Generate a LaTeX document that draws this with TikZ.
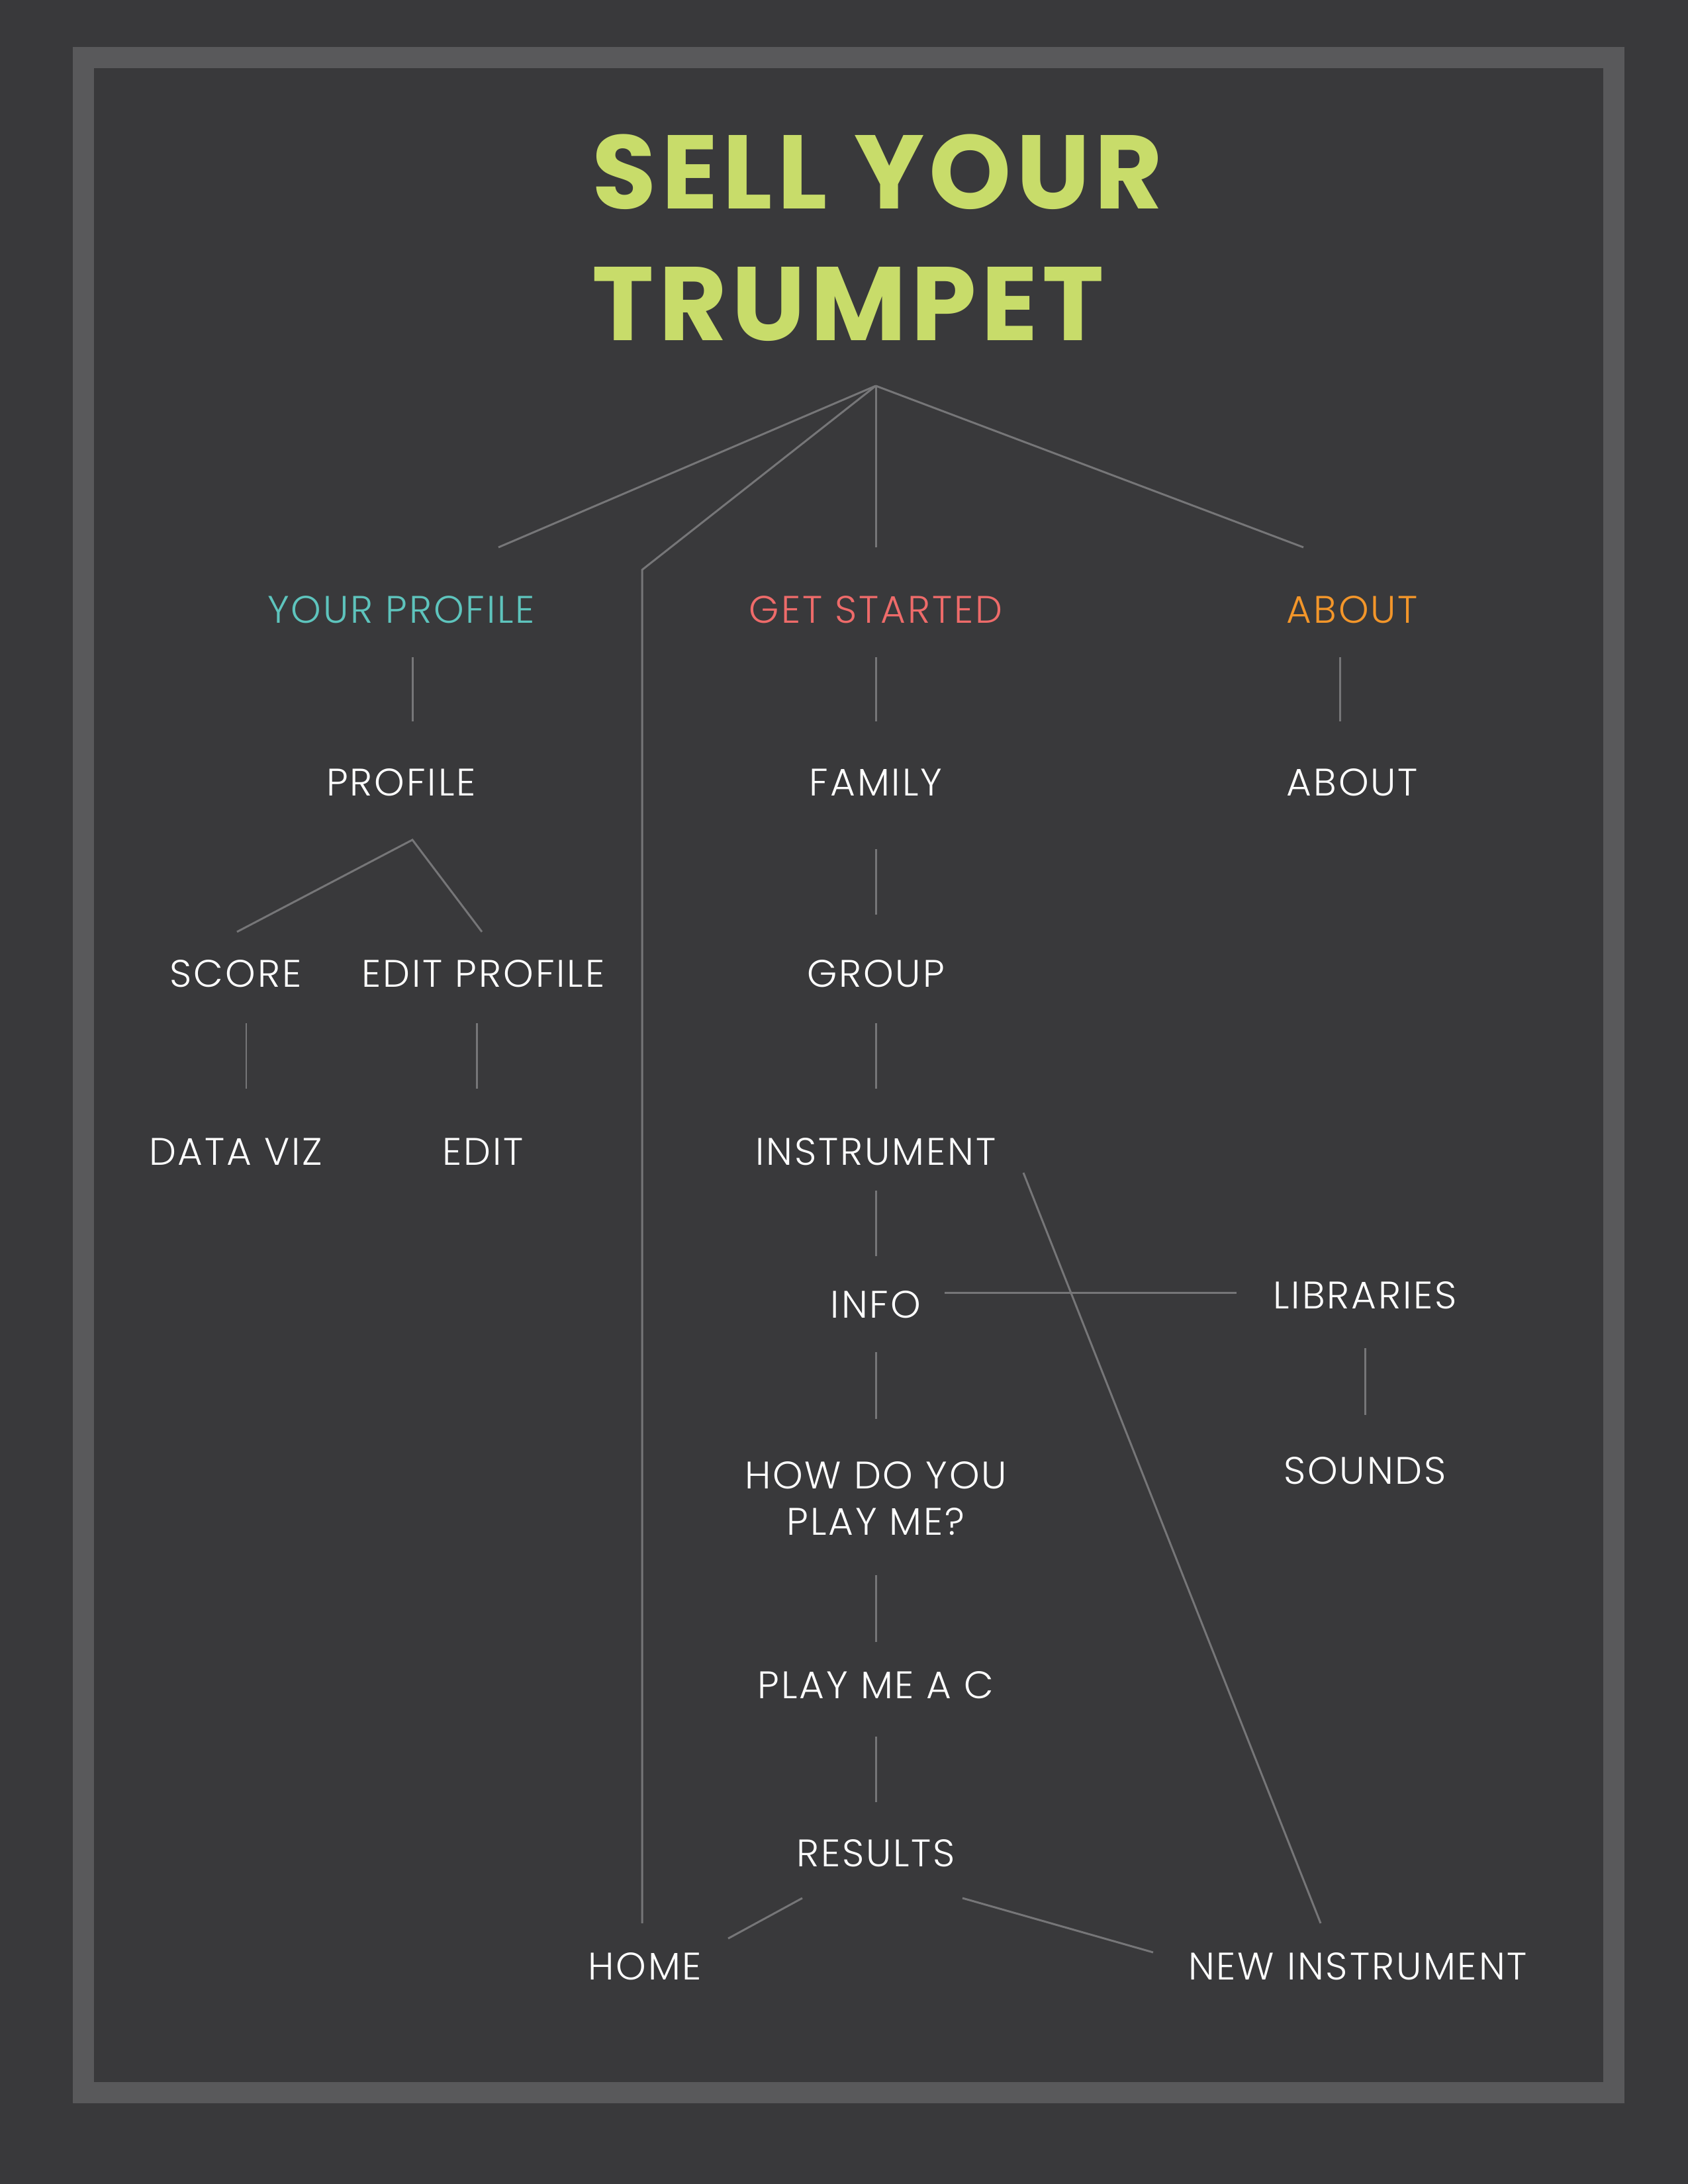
\documentclass[tikz,border=0pt]{standalone}
\usepackage{fontspec}
\setmainfont{Poppins}[LetterSpace=4.5]
\newfontfamily\thinfont{Poppins Light}[LetterSpace=5]
\usetikzlibrary{calc}
\definecolor{bgdark}{RGB}{57,57,59}
\definecolor{framegray}{RGB}{89,89,91}
\definecolor{linegray}{RGB}{118,118,120}
\definecolor{tgreen}{RGB}{200,220,106}
\definecolor{tteal}{RGB}{94,196,189}
\definecolor{tred}{RGB}{238,107,106}
\definecolor{torange}{RGB}{243,150,42}
\tikzset{
    item/.style={text=white, inner sep=0pt, align=center, font=\thinfont\fontsize{16.5}{20}\selectfont},
    head/.style={item},
    titletext/.style={text=tgreen, inner sep=0pt, anchor=base west, font=\bfseries\fontsize{45}{50}\selectfont},
    link/.style={draw=linegray, line width=0.85pt},
}

\begin{document}
\begin{tikzpicture}

% background and frame
\fill[bgdark] (0,0) rectangle (25.5,-33);
\draw[framegray, line width=0.32cm] (1.26,-0.875) rectangle (24.375,-31.615);
\useasboundingbox (0,0) rectangle (25.5,-33);

% title
\node[titletext] (title) at (8.94,-3.16) {SELL YOUR};
\node[titletext] (title2) at (8.94,-5.15) {TRUMPET};
\coordinate (root) at (13.23,-5.83);

% main sections
\node[head, text=tteal] (yp) at (6.06,-9.21) {YOUR PROFILE};
\node[head, text=tred] (gs) at (13.23,-9.21) {GET STARTED};
\node[head, text=torange] (ab) at (20.43,-9.21) {ABOUT};

% your profile branch
\node[item] (prof) at (6.06,-11.82) {PROFILE};
\node[item] (score) at (3.56,-14.71) {SCORE};
\node[item] (editp) at (7.30,-14.71) {EDIT PROFILE};
\node[item] (dviz) at (3.56,-17.40) {DATA VIZ};
\node[item] (edit) at (7.30,-17.40) {EDIT};

% get started branch
\node[item] (fam) at (13.23,-11.82) {FAMILY};
\node[item] (grp) at (13.23,-14.71) {GROUP};
\node[item] (instr) at (13.23,-17.40) {INSTRUMENT};
\node[item] (info) at (13.23,-19.71) {INFO};
\node[item] (how) at (13.23,-22.64) {HOW DO YOU\\PLAY ME?};
\node[item] (playc) at (13.23,-25.46) {PLAY ME A C};
\node[item] (res) at (13.23,-28.00) {RESULTS};
\node[item] (home) at (9.74,-29.71) {HOME};
\node[item] (newi) at (20.51,-29.71) {NEW INSTRUMENT};
\node[item] (libs) at (20.62,-19.57) {LIBRARIES};
\node[item] (sounds) at (20.62,-22.22) {SOUNDS};

% about branch
\node[item] (about) at (20.43,-11.82) {ABOUT};

% top tree
\draw[link] (root) -- ($(yp)+(1.47,0.94)$);
\draw[link] (root) -- ($(gs)+(0,0.94)$);
\draw[link] (root) -- ($(ab)+(-0.74,0.94)$);
\coordinate (homebend) at ($(home)+(-0.04,21.10)$);
\draw[link] (root) -- (homebend) -- ($(home)+(-0.04,0.65)$);

% your profile links
\draw[link] ($(yp)+(0.17,-0.72)$) -- ($(yp)+(0.17,-1.69)$);
\coordinate (profsplit) at ($(prof)+(0.17,-0.87)$);
\draw[link] ($(score)+(0.02,0.63)$) -- (profsplit) -- ($(editp)+(-0.02,0.63)$);
\draw[link] ($(score)+(0.16,-0.75)$) -- ($(score)+(0.16,-1.74)$);
\draw[link] ($(editp)+(-0.10,-0.75)$) -- ($(editp)+(-0.10,-1.74)$);

% get started links
\draw[link] ($(gs)+(0,-0.72)$) -- ($(gs)+(0,-1.69)$);
\draw[link] ($(fam)+(0,-1.01)$) -- ($(fam)+(0,-2.00)$);
\draw[link] ($(grp)+(0,-0.75)$) -- ($(grp)+(0,-1.74)$);
\draw[link] ($(instr)+(0,-0.59)$) -- ($(instr)+(0,-1.58)$);
\draw[link] ($(info)+(0,-0.72)$) -- ($(info)+(0,-1.73)$);
\draw[link] ($(playc)+(0,1.66)$) -- ($(playc)+(0,0.65)$);
\draw[link] ($(playc)+(0,-0.78)$) -- ($(playc)+(0,-1.77)$);
\draw[link] ($(res)+(-1.11,-0.68)$) -- ($(home)+(1.26,0.42)$);
\draw[link] ($(res)+(1.31,-0.68)$) -- ($(newi)+(-3.09,0.21)$);
\draw[link] ($(instr)+(2.23,-0.32)$) -- ($(newi)+(-0.56,0.65)$);
\draw[link] ($(info)+(1.04,0.18)$) -- ($(libs)+(-1.94,0.04)$);
\draw[link] ($(libs)+(0,-0.80)$) -- ($(libs)+(0,-1.81)$);

% about link
\draw[link] ($(ab)+(-0.19,-0.72)$) -- ($(ab)+(-0.19,-1.69)$);

\end{tikzpicture}
\end{document}
